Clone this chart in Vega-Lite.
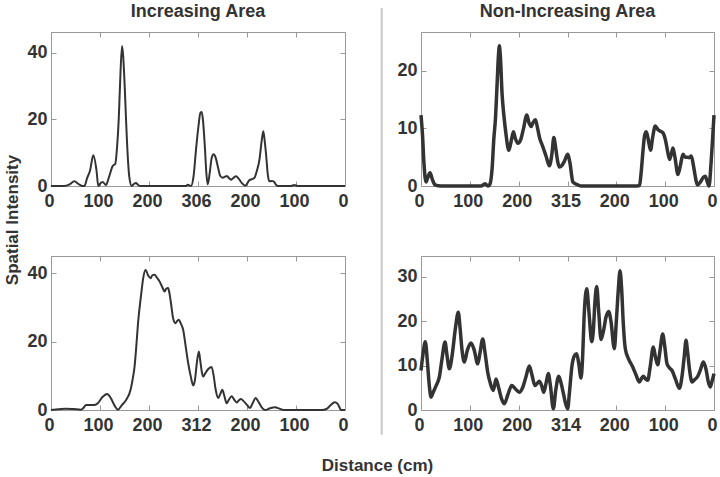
{
  "$schema": "https://vega.github.io/schema/vega-lite/v6.json",
  "background": "white",
  "padding": {"left": 2, "top": 2, "right": 0, "bottom": 0},
  "autosize": {"type": "pad"},
  "columns": 2,
  "spacing": {"row": 70, "column": 76},
  "bounds": "flush",
  "datasets": {
    "tl": [
      {"x":0,"y":0},{"x":26.5,"y":0},{"x":38,"y":0.5},{"x":47.6,"y":1.4},{"x":56,"y":0.6},{"x":64.7,"y":0},{"x":68,"y":0},{"x":74,"y":2.5},{"x":79.6,"y":4.6},{"x":86.3,"y":9.2},{"x":92.9,"y":4.6},{"x":96.5,"y":0},{"x":101,"y":0.8},{"x":105.5,"y":1.2},{"x":112.2,"y":0.3},{"x":118,"y":2.5},{"x":125.9,"y":6},{"x":131.2,"y":6.7},{"x":135,"y":12},{"x":138.2,"y":20},{"x":140.8,"y":30},{"x":144.9,"y":42},{"x":150.4,"y":30},{"x":153.1,"y":20},{"x":157,"y":8},{"x":160,"y":2.5},{"x":164.7,"y":0},{"x":169,"y":0.6},{"x":173.5,"y":0.9},{"x":178,"y":0.3},{"x":183.7,"y":0},{"x":275.5,"y":0},{"x":279,"y":0.4},{"x":285.7,"y":0},{"x":291,"y":3},{"x":296,"y":11},{"x":301,"y":18},{"x":305,"y":22},{"x":307.6,"y":22.2},{"x":310,"y":20},{"x":314.3,"y":11},{"x":317,"y":4},{"x":319.8,"y":0.5},{"x":324,"y":4},{"x":328,"y":8.5},{"x":332,"y":9.5},{"x":336,"y":8.5},{"x":341,"y":5.5},{"x":345.5,"y":3},{"x":350.4,"y":2.5},{"x":355,"y":2.8},{"x":359.2,"y":3},{"x":363,"y":2.4},{"x":367.3,"y":1.9},{"x":372,"y":2.4},{"x":377.6,"y":2.9},{"x":383,"y":2.2},{"x":390,"y":0.8},{"x":396.5,"y":0.1},{"x":404.7,"y":1.7},{"x":414.9,"y":2.4},{"x":420,"y":4.5},{"x":425.5,"y":8},{"x":429.5,"y":13},{"x":433.3,"y":16.4},{"x":436.5,"y":13},{"x":439.8,"y":8},{"x":442,"y":4},{"x":445.5,"y":1.4},{"x":450,"y":1.5},{"x":454.5,"y":1.4},{"x":458,"y":0.6},{"x":462.7,"y":0},{"x":490,"y":0},{"x":496.5,"y":0.3},{"x":503,"y":0},{"x":600,"y":0}
    ],
    "tr": [
      {"x":0,"y":12.3},{"x":3,"y":9},{"x":6,"y":4},{"x":10.3,"y":0.7},{"x":14,"y":1.5},{"x":18.5,"y":2.3},{"x":23,"y":1.2},{"x":28.7,"y":0.2},{"x":41,"y":0},{"x":123,"y":0},{"x":131.2,"y":0.4},{"x":137,"y":0},{"x":141,"y":0.3},{"x":145.6,"y":3},{"x":149,"y":8},{"x":152.7,"y":12},{"x":156,"y":18},{"x":158.5,"y":22.5},{"x":160.5,"y":24.3},{"x":162.5,"y":22.5},{"x":166,"y":16},{"x":170,"y":12},{"x":174,"y":9},{"x":179.8,"y":6.2},{"x":184,"y":7.5},{"x":189.2,"y":9.4},{"x":193,"y":8.3},{"x":198.2,"y":7.4},{"x":204,"y":8},{"x":210,"y":10},{"x":216.7,"y":12.3},{"x":221,"y":11},{"x":225.5,"y":10.3},{"x":229.5,"y":11},{"x":234.3,"y":11.5},{"x":238,"y":10.3},{"x":243,"y":8.3},{"x":249.5,"y":6.8},{"x":256,"y":5.2},{"x":263,"y":3.5},{"x":268,"y":5.5},{"x":272,"y":8.4},{"x":276,"y":6.5},{"x":280,"y":4.2},{"x":283.5,"y":3.3},{"x":288,"y":3.5},{"x":293,"y":4.2},{"x":300.7,"y":5.5},{"x":305,"y":4},{"x":311,"y":0.7},{"x":316,"y":0.4},{"x":321.2,"y":0.2},{"x":328,"y":0},{"x":442.8,"y":0},{"x":447.5,"y":0.1},{"x":451,"y":2.5},{"x":455,"y":6.5},{"x":458,"y":8.8},{"x":461.3,"y":9.4},{"x":465.5,"y":8},{"x":470,"y":6.2},{"x":474.5,"y":8.5},{"x":479.7,"y":10.4},{"x":485,"y":9.8},{"x":490,"y":9.5},{"x":495.5,"y":9.2},{"x":501,"y":7.8},{"x":505,"y":6},{"x":509,"y":4.6},{"x":513,"y":5.7},{"x":516,"y":6.6},{"x":520,"y":5},{"x":526.2,"y":2},{"x":531,"y":3.5},{"x":536.5,"y":5.5},{"x":541,"y":5},{"x":545.3,"y":5},{"x":549,"y":4.9},{"x":553.5,"y":5.2},{"x":558,"y":3.5},{"x":562,"y":1.5},{"x":565.8,"y":0.2},{"x":573,"y":0.8},{"x":578,"y":1.5},{"x":582.2,"y":1.7},{"x":586,"y":0.8},{"x":589.8,"y":0},{"x":594,"y":4},{"x":597,"y":8},{"x":600,"y":12.3}
    ],
    "bl": [
      {"x":0,"y":0},{"x":15,"y":0.2},{"x":30.7,"y":0.4},{"x":45,"y":0.3},{"x":61.4,"y":0.1},{"x":66,"y":0.6},{"x":71.7,"y":1.5},{"x":80,"y":1.5},{"x":88.7,"y":1.5},{"x":95.6,"y":2},{"x":105,"y":3.8},{"x":114.7,"y":4.7},{"x":122,"y":3.5},{"x":130,"y":1.2},{"x":136.6,"y":0.1},{"x":145,"y":1.5},{"x":153.6,"y":3},{"x":162.4,"y":5.9},{"x":166,"y":8.5},{"x":170.6,"y":12.8},{"x":174,"y":18.5},{"x":177.6,"y":25.4},{"x":184.3,"y":34.2},{"x":188,"y":38.5},{"x":193.1,"y":41},{"x":198,"y":39.5},{"x":203.4,"y":38.6},{"x":207,"y":39.5},{"x":211.6,"y":39.6},{"x":216,"y":38.8},{"x":221.8,"y":37.6},{"x":227,"y":36},{"x":232,"y":34.7},{"x":235,"y":35.5},{"x":239,"y":35.7},{"x":242,"y":34},{"x":245.8,"y":30.3},{"x":249,"y":27},{"x":254,"y":25.4},{"x":257,"y":26},{"x":260.7,"y":26.4},{"x":265,"y":25.3},{"x":269.7,"y":23.5},{"x":275,"y":18.5},{"x":280,"y":13.7},{"x":285,"y":10},{"x":290.2,"y":7.2},{"x":294,"y":9},{"x":297,"y":13},{"x":301.7,"y":17.1},{"x":305,"y":14},{"x":308,"y":11},{"x":310.7,"y":9.8},{"x":315,"y":10.8},{"x":321,"y":12},{"x":327.7,"y":12.6},{"x":332,"y":10},{"x":336,"y":6},{"x":341.4,"y":3.5},{"x":345,"y":4.5},{"x":349.6,"y":5.9},{"x":354,"y":4},{"x":358.4,"y":2},{"x":363,"y":3},{"x":368.6,"y":4},{"x":374,"y":3},{"x":378.9,"y":2.2},{"x":383,"y":2.8},{"x":387.7,"y":3.2},{"x":393,"y":2.6},{"x":400,"y":1.5},{"x":406.1,"y":0.6},{"x":411,"y":1.8},{"x":417.8,"y":3.5},{"x":423,"y":2.5},{"x":430,"y":0.8},{"x":436.8,"y":0},{"x":447,"y":0.5},{"x":457.3,"y":0.8},{"x":466,"y":0.4},{"x":474.5,"y":0},{"x":553,"y":0},{"x":562,"y":0.3},{"x":570,"y":1.3},{"x":579,"y":2.3},{"x":585,"y":1.8},{"x":592.5,"y":0},{"x":600,"y":0}
    ],
    "br": [
      {"x":0,"y":8.9},{"x":4,"y":12.5},{"x":8.8,"y":15.4},{"x":13,"y":11},{"x":17,"y":5.5},{"x":20.5,"y":2.9},{"x":25,"y":4},{"x":31,"y":5.5},{"x":37.5,"y":7.4},{"x":43,"y":11.5},{"x":49.2,"y":15.3},{"x":53,"y":12.5},{"x":58,"y":9.3},{"x":64,"y":12.5},{"x":70,"y":18},{"x":76.4,"y":22},{"x":80,"y":18.5},{"x":84,"y":13.5},{"x":88.7,"y":10.8},{"x":95,"y":13.5},{"x":102.4,"y":15.1},{"x":109,"y":13.5},{"x":116.1,"y":10.4},{"x":121,"y":13},{"x":126.4,"y":16},{"x":131,"y":13},{"x":136.6,"y":8.5},{"x":142,"y":6},{"x":148.1,"y":4.4},{"x":153.6,"y":7},{"x":159,"y":5},{"x":165,"y":2.5},{"x":170.6,"y":1.4},{"x":178,"y":3.5},{"x":185.8,"y":5.5},{"x":193,"y":4.8},{"x":201.3,"y":4},{"x":208,"y":5},{"x":215,"y":7.5},{"x":221.8,"y":9.9},{"x":227,"y":8},{"x":233.5,"y":5.5},{"x":238,"y":6},{"x":242.3,"y":6.5},{"x":247,"y":5.5},{"x":251.3,"y":4},{"x":256,"y":6},{"x":260.7,"y":8.2},{"x":265,"y":5.5},{"x":271,"y":0.3},{"x":276,"y":4.5},{"x":282,"y":7.6},{"x":287,"y":6},{"x":292,"y":3.5},{"x":296,"y":1.5},{"x":300.4,"y":0.3},{"x":304,"y":4},{"x":309.2,"y":10},{"x":314,"y":12.2},{"x":318.9,"y":12.7},{"x":323,"y":10.5},{"x":327.7,"y":7.2},{"x":331,"y":12},{"x":334,"y":21},{"x":339.4,"y":27.3},{"x":344,"y":22},{"x":349.6,"y":15.4},{"x":353,"y":18},{"x":356,"y":24},{"x":359.8,"y":27.8},{"x":364,"y":22},{"x":368.6,"y":15.9},{"x":374,"y":18},{"x":379,"y":21},{"x":384.4,"y":22.2},{"x":389,"y":20},{"x":395.9,"y":13.8},{"x":400,"y":20},{"x":404,"y":27},{"x":407.6,"y":31.4},{"x":411,"y":27},{"x":414,"y":20},{"x":418.4,"y":13.8},{"x":425,"y":11.5},{"x":433.6,"y":9.7},{"x":440,"y":8},{"x":447.1,"y":6.3},{"x":451,"y":7},{"x":455.3,"y":7.6},{"x":460,"y":7},{"x":464.3,"y":6.7},{"x":469,"y":9.5},{"x":475.8,"y":14.2},{"x":480,"y":12},{"x":484.8,"y":10.2},{"x":489,"y":13},{"x":495,"y":17.1},{"x":499,"y":14.5},{"x":503.8,"y":10.4},{"x":508,"y":9.6},{"x":514,"y":8.9},{"x":521,"y":7},{"x":529,"y":4.9},{"x":535,"y":8},{"x":539,"y":12},{"x":542.7,"y":15.7},{"x":546,"y":13},{"x":550,"y":9},{"x":555,"y":6.3},{"x":560,"y":6.8},{"x":566.7,"y":7.6},{"x":572,"y":9},{"x":578.2,"y":10.8},{"x":584,"y":9},{"x":588,"y":6.5},{"x":592.3,"y":5.2},{"x":596,"y":6.5},{"x":600,"y":8.2}
    ]
  },
  "concat": [
    {
      "width": 294, "height": 154,
      "title": "Increasing Area",
      "data": {"name": "tl"},
      "layer": [
        {
          "mark": {"type": "line", "interpolate": "monotone", "color": "#333333", "strokeWidth": 2},
          "encoding": {
            "x": {"field": "x", "type": "quantitative", "scale": {"domain": [0, 600], "nice": false, "zero": false},
                  "axis": {"values": [0,100,200,300,400,500,600], "labelExpr": "datum.value == 300 ? '306' : datum.value < 300 ? datum.label : format(600 - datum.value, 'd')", "title": null}},
            "y": {"field": "y", "type": "quantitative", "scale": {"domain": [0, 46.2], "nice": false},
                  "axis": {"values": [0,20,40], "title": "Spatial Intensity", "titleX": -39, "titleY": 187.5, "titleAlign": "center", "titleBaseline": "middle", "titleAngle": -90}}
          }
        },
        {
          "mark": {"type": "line", "opacity": 0},
          "encoding": {
            "x": {"field": "x", "type": "quantitative", "axis": {"orient": "top", "values": [0,100,200,300,400,500,600], "labels": false, "title": null}},
            "y": {"field": "y", "type": "quantitative", "axis": {"orient": "right", "values": [0,20,40], "labels": false, "title": null}}
          }
        }
      ],
      "resolve": {"axis": {"x": "independent", "y": "independent"}}
    },
    {
      "width": 293, "height": 154,
      "title": "Non-Increasing Area",
      "data": {"name": "tr"},
      "layer": [
        {
          "mark": {"type": "line", "interpolate": "monotone", "color": "#333333", "strokeWidth": 3.5},
          "encoding": {
            "x": {"field": "x", "type": "quantitative", "scale": {"domain": [0, 600], "nice": false, "zero": false},
                  "axis": {"values": [0,100,200,300,400,500,600], "labelExpr": "datum.value == 300 ? '315' : datum.value < 300 ? datum.label : format(600 - datum.value, 'd')", "title": null}},
            "y": {"field": "y", "type": "quantitative", "scale": {"domain": [0, 26.7], "nice": false},
                  "axis": {"values": [0,10,20], "title": null}}
          }
        },
        {
          "mark": {"type": "line", "opacity": 0},
          "encoding": {
            "x": {"field": "x", "type": "quantitative", "axis": {"orient": "top", "values": [0,100,200,300,400,500,600], "labels": false, "title": null}},
            "y": {"field": "y", "type": "quantitative", "axis": {"orient": "right", "values": [0,10,20], "labels": false, "title": null}}
          }
        }
      ],
      "resolve": {"axis": {"x": "independent", "y": "independent"}}
    },
    {
      "width": 294, "height": 154,
      "data": {"name": "bl"},
      "layer": [
        {
          "mark": {"type": "line", "interpolate": "monotone", "color": "#333333", "strokeWidth": 2},
          "encoding": {
            "x": {"field": "x", "type": "quantitative", "scale": {"domain": [0, 600], "nice": false, "zero": false},
                  "axis": {"values": [0,100,200,300,400,500,600], "labelExpr": "datum.value == 300 ? '312' : datum.value < 300 ? datum.label : format(600 - datum.value, 'd')", "title": "Distance (cm)", "titleX": 326, "titleY": 55, "titleAlign": "center", "titleBaseline": "middle"}},
            "y": {"field": "y", "type": "quantitative", "scale": {"domain": [0, 45.1], "nice": false},
                  "axis": {"values": [0,20,40], "title": null}}
          }
        },
        {
          "mark": {"type": "line", "opacity": 0},
          "encoding": {
            "x": {"field": "x", "type": "quantitative", "axis": {"orient": "top", "values": [0,100,200,300,400,500,600], "labels": false, "title": null}},
            "y": {"field": "y", "type": "quantitative", "axis": {"orient": "right", "values": [0,20,40], "labels": false, "title": null}}
          }
        }
      ],
      "resolve": {"axis": {"x": "independent", "y": "independent"}}
    },
    {
      "width": 293, "height": 154,
      "data": {"name": "br"},
      "layer": [
        {
          "data": {"values": [{}]},
          "mark": {"type": "rule", "color": "#c8c8c8", "strokeWidth": 2, "clip": false},
          "encoding": {
            "x": {"datum": -80.5, "type": "quantitative", "axis": null},
            "y": {"datum": 90.6, "type": "quantitative", "axis": null},
            "y2": {"datum": -5.6}
          }
        },
        {
          "mark": {"type": "line", "interpolate": "monotone", "color": "#333333", "strokeWidth": 3.5},
          "encoding": {
            "x": {"field": "x", "type": "quantitative", "scale": {"domain": [0, 600], "nice": false, "zero": false},
                  "axis": {"values": [0,100,200,300,400,500,600], "labelExpr": "datum.value == 300 ? '314' : datum.value < 300 ? datum.label : format(600 - datum.value, 'd')", "title": null}},
            "y": {"field": "y", "type": "quantitative", "scale": {"domain": [0, 34.7], "nice": false},
                  "axis": {"values": [0,10,20,30], "title": null}}
          }
        },
        {
          "mark": {"type": "line", "opacity": 0},
          "encoding": {
            "x": {"field": "x", "type": "quantitative", "axis": {"orient": "top", "values": [0,100,200,300,400,500,600], "labels": false, "title": null}},
            "y": {"field": "y", "type": "quantitative", "axis": {"orient": "right", "values": [0,10,20,30], "labels": false, "title": null}}
          }
        }
      ],
      "resolve": {"axis": {"x": "independent", "y": "independent"}}
    }
  ],
  "config": {
    "font": "Liberation Sans",
    "view": {"stroke": "#999999", "strokeWidth": 1},
    "axis": {
      "domain": false, "grid": false,
      "tickColor": "#999999", "tickSize": -5, "tickWidth": 1,
      "labelFont": "Liberation Sans", "labelFontSize": 18, "labelFontWeight": "bold", "labelColor": "#333333",
      "labelPadding": 11,
      "titleFont": "Liberation Sans", "titleFontSize": 17, "titleFontWeight": "bold", "titleColor": "#333333"
    },
    "axisX": {"labelFlush": false, "labelOffset": -2},
    "axisY": {"labelPadding": 9},
    "title": {"font": "Liberation Sans", "fontSize": 18, "fontWeight": "bold", "color": "#333333", "baseline": "alphabetic", "offset": 11, "anchor": "middle", "frame": "group"}
  }
}
